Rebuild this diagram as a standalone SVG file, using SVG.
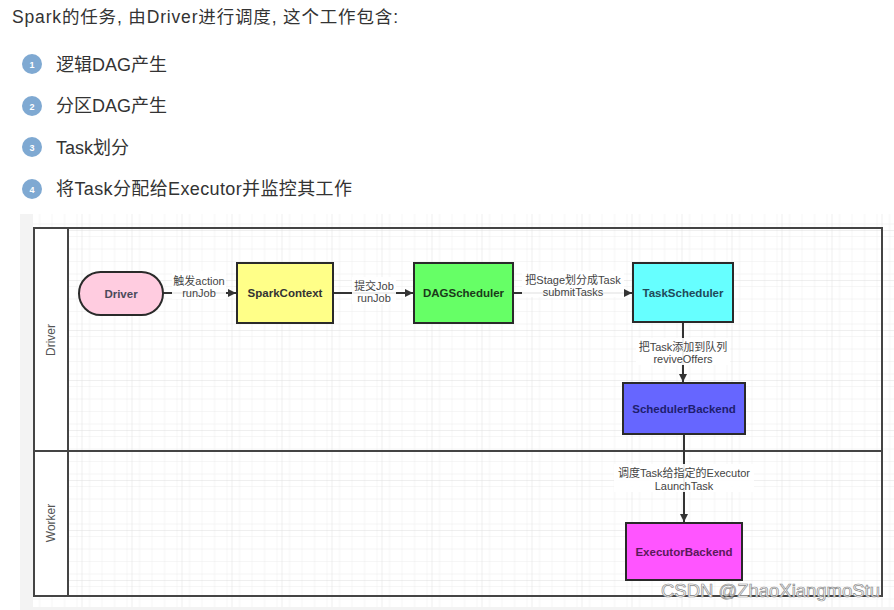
<svg xmlns="http://www.w3.org/2000/svg" width="894" height="610" viewBox="0 0 894 610">
<defs>
<pattern id="minor" x="32.5" y="31" width="12.5" height="12.5" patternUnits="userSpaceOnUse">
<path d="M12.5 0V12.5M0 12.5H12.5" fill="none" stroke="#ececec" stroke-width="1"/>
</pattern>
<pattern id="major" x="32.5" y="31" width="50" height="50" patternUnits="userSpaceOnUse">
<rect width="50" height="50" fill="url(#minor)"/>
<path d="M50 0V50M0 50H50" fill="none" stroke="#dedede" stroke-width="1"/>
</pattern>
<marker id="arr" viewBox="0 0 10 10" refX="10" refY="5" markerWidth="9" markerHeight="8" orient="auto" markerUnits="userSpaceOnUse">
<path d="M0 0L10 5L0 10Z" fill="#333"/>
</marker>
</defs>
<style>
.hdr{font-family:"Liberation Sans","Noto Sans CJK SC",sans-serif;fill:#333;}
.num{font-family:"Liberation Sans",sans-serif;font-size:9px;font-weight:bold;fill:#fff;text-anchor:middle;}
.node{stroke:#2a2a2a;stroke-width:2;}
.nt{font-family:"Liberation Sans",sans-serif;font-size:11.5px;font-weight:bold;text-anchor:middle;dominant-baseline:central;}
.lbl{font-family:"Liberation Sans","Noto Sans CJK SC",sans-serif;font-size:11px;fill:#444;text-anchor:middle;}
.lbg{fill:#fff;opacity:0.92;}
.edge{stroke:#333;stroke-width:2;fill:none;}
.lane{font-family:"Liberation Sans",sans-serif;font-size:12px;fill:#555;text-anchor:middle;}
</style>
<rect width="894" height="610" fill="#fff"/>
<text class="hdr" x="12" y="23" font-size="17.5" textLength="386" lengthAdjust="spacing">Spark的任务, 由Driver进行调度, 这个工作包含:</text>
<g>
<circle cx="32" cy="64" r="10" fill="#7fa9d2"/><text class="num" x="32" y="67.5">1</text>
<text class="hdr" x="56" y="71" font-size="18">逻辑DAG产生</text>
<circle cx="32" cy="106" r="10" fill="#7fa9d2"/><text class="num" x="32" y="109.5">2</text>
<text class="hdr" x="56" y="112" font-size="18">分区DAG产生</text>
<circle cx="32" cy="147" r="10" fill="#7fa9d2"/><text class="num" x="32" y="150.5">3</text>
<text class="hdr" x="56" y="154" font-size="18">Task划分</text>
<circle cx="32" cy="189" r="10" fill="#7fa9d2"/><text class="num" x="32" y="192.5">4</text>
<text class="hdr" x="56" y="195" font-size="18" textLength="296" lengthAdjust="spacing">将Task分配给Executor并监控其工作</text>
</g>
<rect x="20" y="214" width="874" height="396" fill="#f3f3f3"/>
<rect x="33" y="214" width="861" height="393" fill="#fff"/>
<rect x="33" y="214" width="861" height="393" fill="url(#major)"/>
<g id="pool">
<rect x="34" y="228" width="34" height="368" fill="#fff"/>
<rect x="34" y="228" width="848" height="368" fill="none" stroke="#444" stroke-width="2"/>
<line x1="68" y1="228" x2="68" y2="596" stroke="#444" stroke-width="2"/>
<line x1="34" y1="451" x2="882" y2="451" stroke="#444" stroke-width="2"/>
<text class="lane" transform="translate(55 340) rotate(-90)">Driver</text>
<text class="lane" transform="translate(55 523) rotate(-90)">Worker</text>
</g>
<g id="connectors">
<path class="edge" d="M163 293H236" marker-end="url(#arr)"/>
<rect class="lbg" x="172" y="271" width="54" height="28"/>
<text class="lbl" x="199" y="285">触发action</text>
<text class="lbl" x="199" y="297">runJob</text>
<path class="edge" d="M333 293H413" marker-end="url(#arr)"/>
<rect class="lbg" x="352" y="277" width="44" height="27"/>
<text class="lbl" x="374" y="290">提交Job</text>
<text class="lbl" x="374" y="302">runJob</text>
<path class="edge" d="M513 293H632" marker-end="url(#arr)"/>
<rect class="lbg" x="522" y="271" width="102" height="26"/>
<text class="lbl" x="573" y="284">把Stage划分成Task</text>
<text class="lbl" x="573" y="296">submitTasks</text>
<path class="edge" d="M683 322V382" marker-end="url(#arr)"/>
<rect class="lbg" x="636" y="338" width="94" height="27"/>
<text class="lbl" x="683" y="351">把Task添加到队列</text>
<text class="lbl" x="683" y="363">reviveOffers</text>
<path class="edge" d="M684 434V522" marker-end="url(#arr)"/>
<rect class="lbg" x="614" y="464" width="140" height="28"/>
<text class="lbl" x="684" y="477">调度Task给指定的Executor</text>
<text class="lbl" x="684" y="490">LaunchTask</text>
</g>
<g id="driver">
<rect class="node" x="79" y="272" width="84" height="43" rx="21.5" fill="#ffcce0"/>
<text class="nt" x="121" y="293.5" fill="#4a4a5a">Driver</text>
</g>
<g id="sparkcontext">
<rect class="node" x="237" y="263" width="96" height="60" fill="#ffff88"/>
<text class="nt" x="285" y="293" fill="#333">SparkContext</text>
</g>
<g id="dagscheduler">
<rect class="node" x="414" y="263" width="99" height="60" fill="#66ff66"/>
<text class="nt" x="463.5" y="293" fill="#1a3a1a">DAGScheduler</text>
</g>
<g id="taskscheduler">
<rect class="node" x="633" y="263" width="100" height="59" fill="#66ffff"/>
<text class="nt" x="683" y="293" fill="#1e4a5a">TaskScheduler</text>
</g>
<g id="schedulerbackend">
<rect class="node" x="623" y="383" width="122" height="51" fill="#6666ff"/>
<text class="nt" x="684" y="408.5" fill="#1e1e6e">SchedulerBackend</text>
</g>
<g id="executorbackend">
<rect class="node" x="626" y="523" width="116" height="57" fill="#ff55ff"/>
<text class="nt" x="684" y="551.5" fill="#5a1a5a">ExecutorBackend</text>
</g>
<text x="661" y="597" font-family="Liberation Sans,sans-serif" font-size="18" fill="#fff" stroke="#8a8a8a" stroke-width="0.7" textLength="219" lengthAdjust="spacingAndGlyphs">CSDN @ZhaoXiangmoStu</text>
</svg>
